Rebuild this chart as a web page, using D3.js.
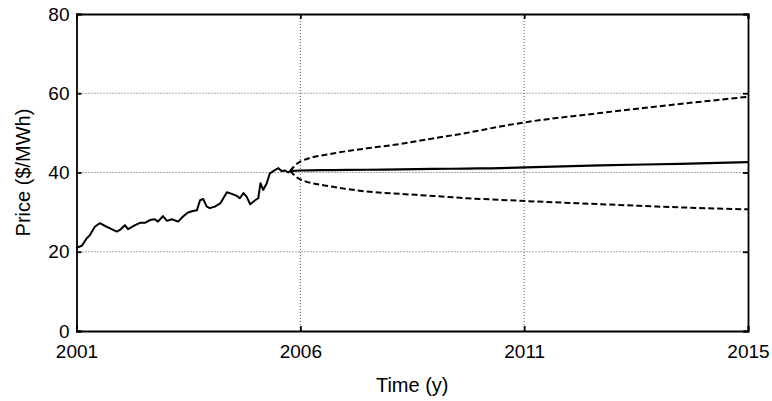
<!DOCTYPE html>
<html>
<head>
<meta charset="utf-8">
<script src="https://cdn.jsdelivr.net/npm/d3@7/dist/d3.min.js"></script>
<style>
  body { margin: 0; background: #fff; }
  text { font-family: "Liberation Sans", Arial, sans-serif; }
</style>
</head>
<body>
<div id="plot"></div>
<script>
// historic price, [year, $/MWh]
const historic = [
  [2001.00, 21.0], [2001.12, 21.5], [2001.23, 23.4], [2001.30, 24.2], [2001.41, 26.3],
  [2001.52, 27.2], [2001.64, 26.5], [2001.75, 25.9], [2001.90, 25.1], [2001.97, 25.5],
  [2002.08, 26.7], [2002.15, 25.7], [2002.31, 26.7], [2002.42, 27.3], [2002.53, 27.3],
  [2002.64, 28.0], [2002.75, 28.2], [2002.82, 27.6], [2002.93, 29.0], [2003.02, 27.8],
  [2003.13, 28.2], [2003.27, 27.6], [2003.38, 28.9], [2003.49, 29.9], [2003.60, 30.3],
  [2003.69, 30.5], [2003.76, 33.0], [2003.83, 33.3], [2003.91, 31.4], [2003.98, 31.0],
  [2004.09, 31.4], [2004.21, 32.2], [2004.36, 35.0], [2004.47, 34.6], [2004.58, 34.1],
  [2004.65, 33.5], [2004.73, 34.8], [2004.80, 33.9], [2004.88, 32.0], [2004.99, 33.0],
  [2005.06, 33.5], [2005.11, 37.3], [2005.17, 35.6], [2005.25, 37.3], [2005.32, 39.8],
  [2005.43, 40.6], [2005.51, 41.1], [2005.58, 40.4], [2005.66, 40.5], [2005.73, 40.0],
  [2005.77, 40.4]
];

// forecast: expected value and upper / lower bands
const forecastYears = [2005.77, 2005.99, 2006.73, 2007.49, 2008.23, 2008.96, 2009.72, 2010.46, 2011.04, 2012.69, 2014.48, 2016.00];
const forecastMean  = [40.4, 40.5, 40.6, 40.7, 40.8, 40.9, 41.0, 41.1, 41.3, 41.8, 42.2, 42.6];
const forecastUpper = [40.4, 42.7, 44.8, 46.1, 47.2, 48.6, 50.0, 51.6, 52.7, 55.0, 57.3, 59.1];
const forecastLower = [40.4, 38.3, 36.4, 35.2, 34.6, 34.1, 33.5, 33.1, 32.8, 32.0, 31.2, 30.7];

const xTicks = [2001, 2006, 2011, 2016];
const xTickLabels = ["2001", "2006", "2011", "2015"];
const yTicks = [0, 20, 40, 60, 80];

const width = 772, height = 401;
const margin = { left: 76.5, right: 24, top: 14, bottom: 70 };

const svg = d3.select("#plot").append("svg")
  .attr("width", width)
  .attr("height", height);

const x = d3.scaleLinear().domain([2001, 2016]).range([margin.left, width - margin.right]);
const y = d3.scaleLinear().domain([0, 80]).range([height - margin.bottom, margin.top]);

// dotted grid
svg.append("g")
  .selectAll("line")
  .data(xTicks.slice(1, -1))
  .enter().append("line")
  .attr("x1", d => x(d)).attr("x2", d => x(d))
  .attr("y1", y(0)).attr("y2", y(80))
  .attr("stroke", "#555").attr("stroke-width", 1).attr("stroke-dasharray", "1,2");

svg.append("g")
  .selectAll("line")
  .data(yTicks.slice(1, -1))
  .enter().append("line")
  .attr("x1", x(2001)).attr("x2", x(2016))
  .attr("y1", d => y(d)).attr("y2", d => y(d))
  .attr("stroke", "#555").attr("stroke-width", 1).attr("stroke-dasharray", "1,2");

// axes (ticks point inward, box all round)
svg.append("g")
  .attr("transform", `translate(0,${y(0)})`)
  .call(d3.axisBottom(x).tickValues(xTicks).tickSize(-5).tickPadding(14)
    .tickFormat((d, i) => xTickLabels[i]));
svg.append("g")
  .attr("transform", `translate(${x(2001)},0)`)
  .call(d3.axisLeft(y).tickValues(yTicks).tickSize(-5).tickPadding(7));
svg.append("g")
  .attr("transform", `translate(0,${y(80)})`)
  .call(d3.axisTop(x).tickValues(xTicks).tickSize(-5).tickFormat(""));
svg.append("g")
  .attr("transform", `translate(${x(2016)},0)`)
  .call(d3.axisRight(y).tickValues(yTicks).tickSize(-5).tickFormat(""));

svg.selectAll(".domain").attr("stroke", "#000").attr("stroke-width", 1.8);
svg.selectAll(".tick line").attr("stroke", "#000").attr("stroke-width", 1.8);
svg.selectAll(".tick text")
  .attr("font-size", "19px")
  .attr("fill", "#000")
  .style("font-family", "'Liberation Sans', Arial, sans-serif");

// lines
const line = d3.line().x(d => x(d[0])).y(d => y(d[1]));

svg.append("path")
  .datum(historic)
  .attr("d", line)
  .attr("fill", "none")
  .attr("stroke", "#000")
  .attr("stroke-width", 2)
  .attr("stroke-linejoin", "round");

const zipped = arr => forecastYears.map((t, i) => [t, arr[i]]);
const lineSmooth = d3.line().x(d => x(d[0])).y(d => y(d[1])).curve(d3.curveMonotoneX);

svg.append("path")
  .datum(zipped(forecastMean))
  .attr("d", lineSmooth)
  .attr("fill", "none").attr("stroke", "#000").attr("stroke-width", 2.2);

[forecastUpper, forecastLower].forEach(arr => {
  svg.append("path")
    .datum(zipped(arr))
    .attr("d", lineSmooth)
    .attr("fill", "none").attr("stroke", "#000").attr("stroke-width", 2)
    .attr("stroke-dasharray", "6,3");
});

// axis titles
svg.append("text")
  .attr("x", (x(2001) + x(2016)) / 2)
  .attr("y", 392)
  .attr("text-anchor", "middle")
  .attr("font-size", "20px")
  .text("Time (y)");

svg.append("text")
  .attr("transform", `translate(30,${(y(0) + y(80)) / 2}) rotate(-90)`)
  .attr("text-anchor", "middle")
  .attr("font-size", "20px")
  .text("Price ($/MWh)");
</script>
</body>
</html>
